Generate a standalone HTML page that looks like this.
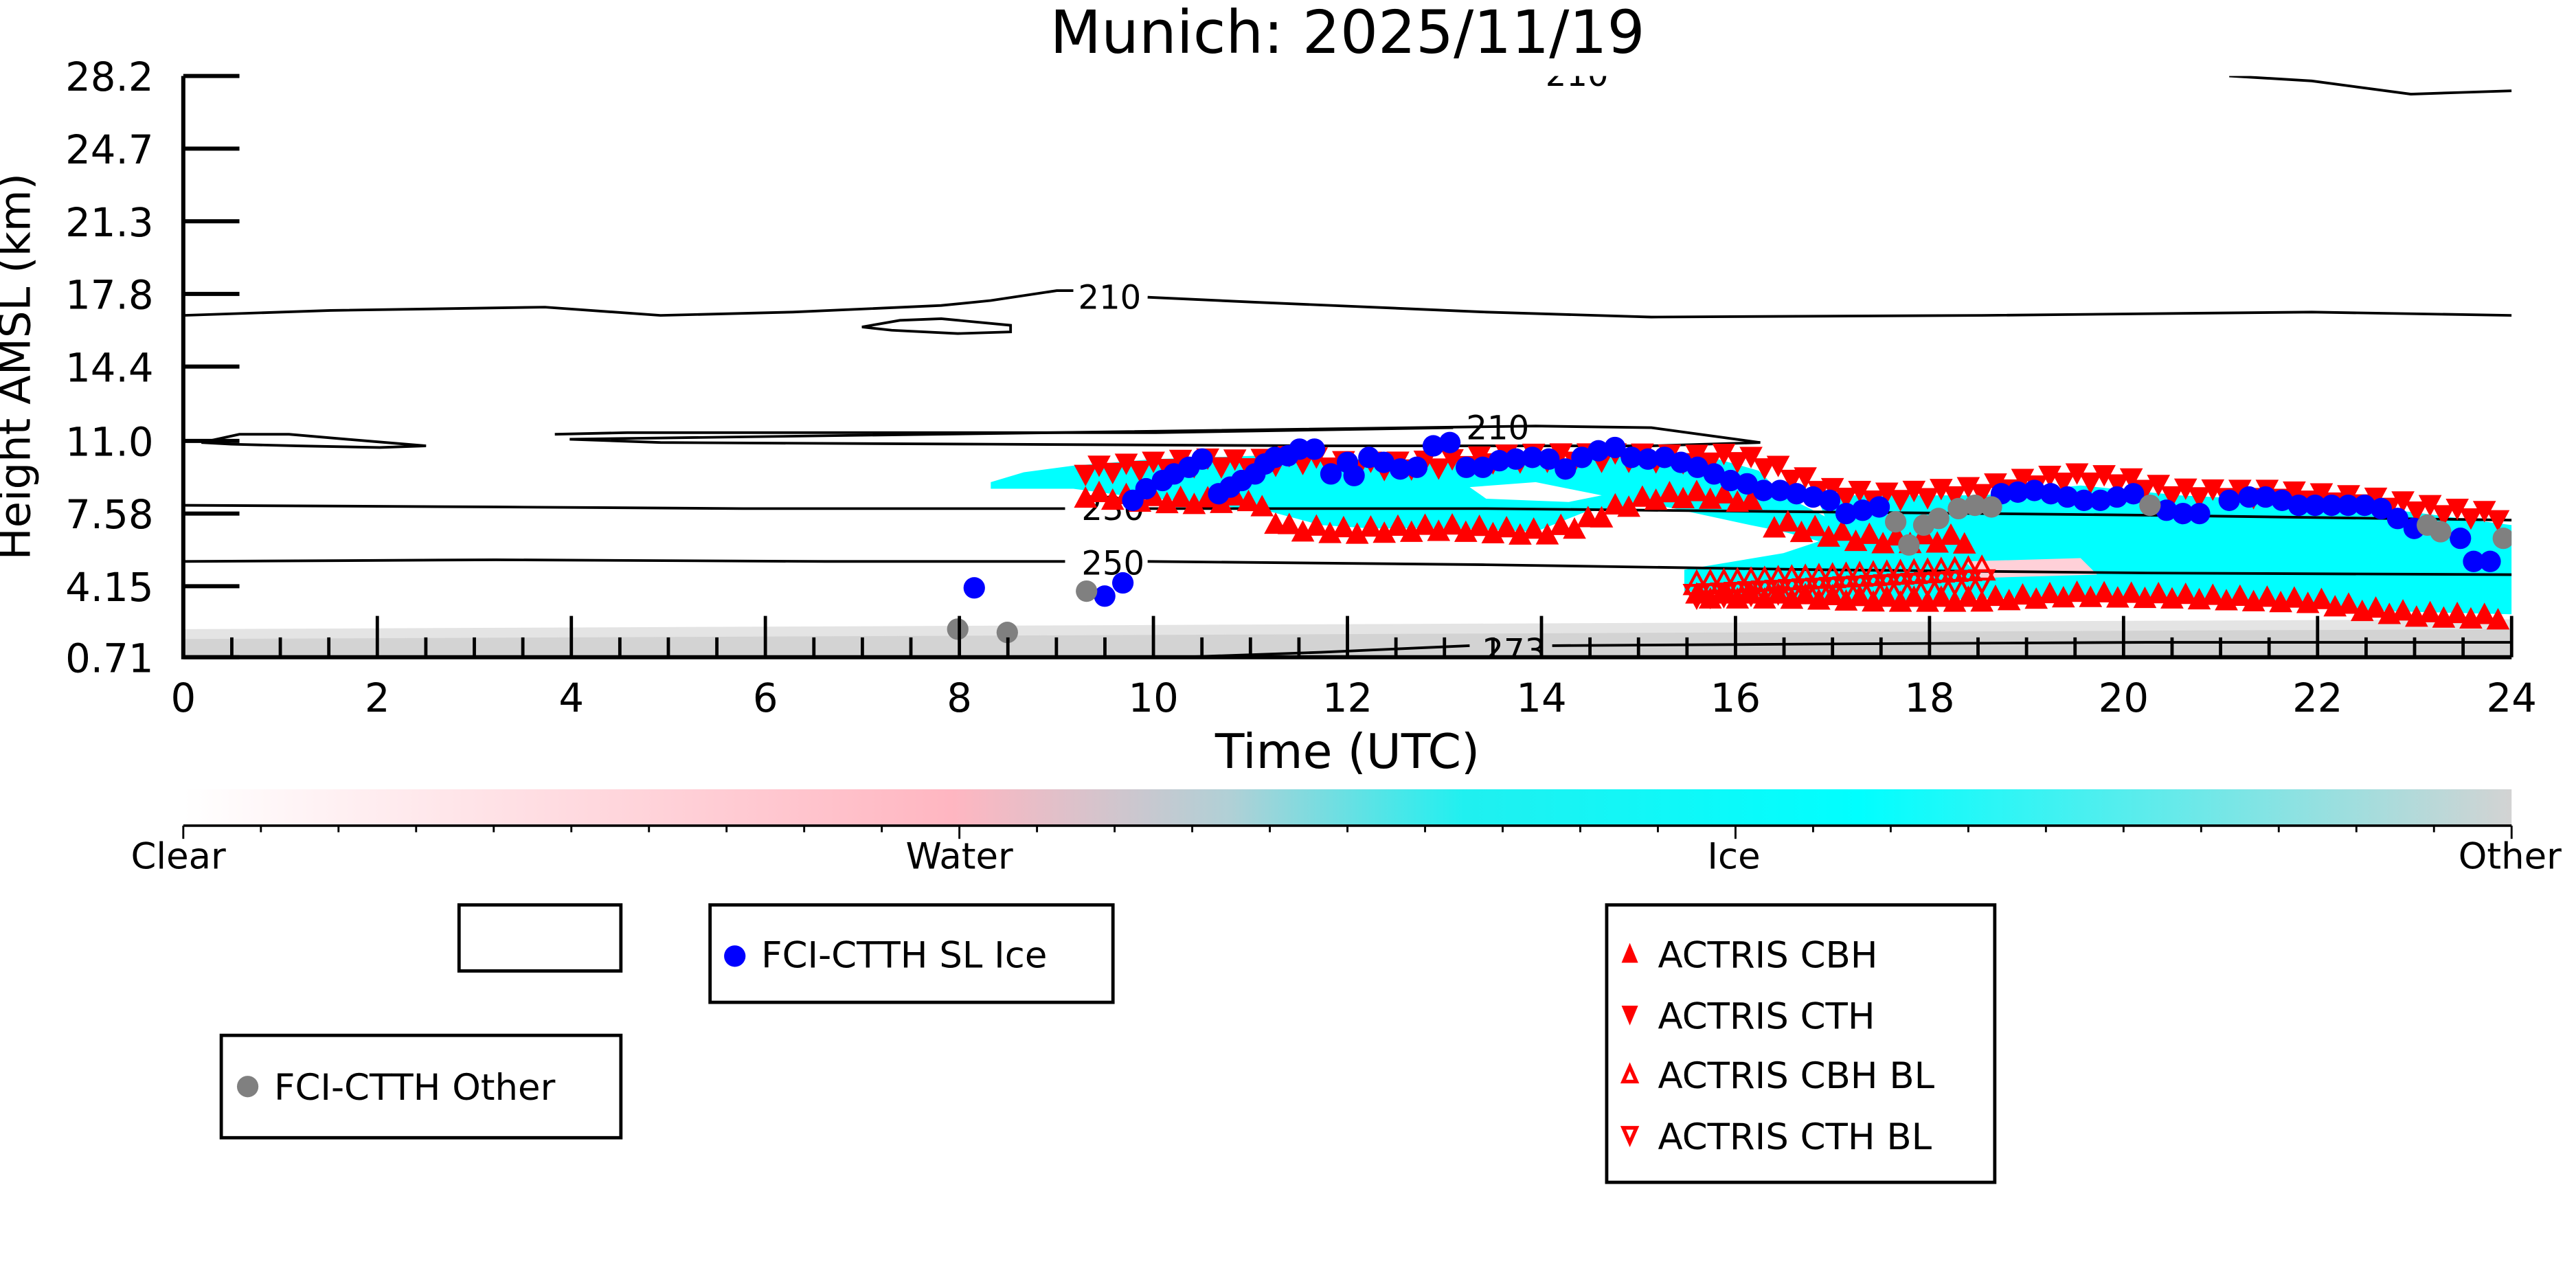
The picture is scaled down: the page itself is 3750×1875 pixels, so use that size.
<!DOCTYPE html>
<html><head><meta charset="utf-8"><style>
html,body{margin:0;padding:0;background:#fff;}
svg{display:block;}
text{font-family:"DejaVu Sans","Liberation Sans",sans-serif;}
</style></head><body>
<svg id="s" width="3750" height="1875" viewBox="0 0 1560 780" xmlns="http://www.w3.org/2000/svg">
<defs>
<linearGradient id="cb" x1="0" x2="1" y1="0" y2="0">
<stop offset="0" stop-color="#ffffff"/>
<stop offset="0.33" stop-color="#ffb6c1"/>
<stop offset="0.45" stop-color="#b0d0d6"/>
<stop offset="0.55" stop-color="#20f0f0"/>
<stop offset="0.72" stop-color="#00ffff"/>
<stop offset="1" stop-color="#d3d3d3"/>
</linearGradient>
<clipPath id="pa"><rect x="111" y="46" width="1410" height="352"/></clipPath>
</defs>
<rect width="1560" height="780" fill="#fff"/>
<text x="816" y="32" font-size="36" text-anchor="middle">Munich: 2025/11/19</text>
<g id="plot" clip-path="url(#pa)">
<path d="M111,384 L300,382 L600,380 L900,378 L1200,377 L1521,375 L1521,398 L111,398Z" fill="#d3d3d3"/>
<path d="M111,384 L1521,378" stroke="#e4e4e4" stroke-width="6" fill="none"/>
<path d="M600,292 L620,286 L650,282 L700,278 L760,276 L820,278 L900,280 L980,277 L1040,278 L1065,285 L1080,300 L1100,310 L1115,318 L1125,330 L1110,330 L1080,322 L1060,318 L1000,305 L960,310 L930,322 L880,320 L830,320 L800,318 L770,310 L720,304 L680,300 L650,296 L600,296Z" fill="#00ffff"/>
<path d="M890,295 L930,292 L970,300 L950,304 L900,302Z" fill="#fff"/>
<path d="M1100,300 L1150,300 L1200,300 L1260,294 L1320,300 L1400,304 L1460,310 L1521,318 L1521,372 L1440,370 L1380,366 L1300,364 L1220,362 L1150,364 L1080,362 L1020,358 L1020,345 L1080,335 L1110,325Z" fill="#00ffff"/>
<path d="M1190,340 L1260,338 L1270,348 L1200,350Z" fill="#ffd0d8"/>
<g fill="none" stroke="#000" stroke-width="1.6">
<path d="M111,191 L200,188 L330,186 L400,191 L480,189 L570,185 L600,182 L640,176 L650,176"/>
<path d="M695,180 L760,183 L900,189 L1000,192 L1200,191 L1400,189 L1521,191"/>
<path d="M522,198 L545,194 L570,193 L612,197 L612,201 L580,202 L540,200Z"/>
<path d="M1350,46 L1400,49 L1460,57 L1490,56 L1521,55"/>
<path d="M122,268 L145,263 L175,263 L210,266 L258,270 L230,271 L180,270 L140,269Z"/>
<path d="M336,263 L380,262 L500,262 L700,262 L880,259"/><path d="M930,258 L1000,259 L1066,268 L1000,270 L800,270 L600,269 L400,268 L345,266Z"/>
<path d="M111,306 L300,307 L450,308 L645,308"/><path d="M695,308 L900,308 L1100,310 L1300,312 L1521,315"/>
<path d="M111,340 L300,339 L500,340 L645,340"/><path d="M695,340 L900,342 L1100,345 L1300,347 L1521,348"/>
<path d="M715,398 L800,395 L890,391"/><path d="M940,391 L1100,390 L1300,389 L1521,389"/>
</g>
<g font-size="20" text-anchor="middle">
<text x="672" y="187">210</text><text x="907" y="266">210</text><text x="955" y="52">210</text>
<text x="674" y="315">230</text><text x="674" y="348">250</text><text x="917" y="401">273</text>
</g>
<g id="data"></g>
</g>
<g stroke="#000" fill="none">
<path d="M111,46 L111,398 L1521,398" stroke-width="2.5"/>
<g id="ticks" stroke-width="2"></g>
</g>
<g font-size="24" text-anchor="end" id="ylab"></g>
<g font-size="24" text-anchor="middle" id="xlab"></g>
<text x="816" y="465" font-size="29" text-anchor="middle">Time (UTC)</text>
<text transform="translate(18,222) rotate(-90)" font-size="26" text-anchor="middle">Height AMSL (km)</text>
<rect x="111" y="478" width="1410" height="22" fill="url(#cb)"/>
<line x1="111" y1="500" x2="1521" y2="500" stroke="#000" stroke-width="1.5"/>
<g id="cbt" stroke="#000" stroke-width="1.2"></g>
<g font-size="22" text-anchor="middle">
<text x="108" y="526">Clear</text><text x="581" y="526">Water</text><text x="1050" y="526">Ice</text><text x="1520" y="526">Other</text>
</g>
<g fill="none" stroke="#000" stroke-width="2">
<rect x="278" y="548" width="98" height="40"/>
<rect x="430" y="548" width="244" height="59"/>
<rect x="134" y="627" width="242" height="62"/>
<rect x="973" y="548" width="235" height="168"/>
</g>
<circle cx="445" cy="579" r="6.5" fill="#0000ff"/>
<text x="461" y="586" font-size="22">FCI-CTTH SL Ice</text>
<circle cx="150" cy="658" r="6.5" fill="#808080"/>
<text x="166" y="666" font-size="22">FCI-CTTH Other</text>
<g font-size="22">
<path d="M982,583 L992,583 L987,571Z" fill="#f00"/><text x="1004" y="586">ACTRIS CBH</text>
<path d="M982,609 L992,609 L987,621Z" fill="#f00"/><text x="1004" y="623">ACTRIS CTH</text>
<path d="M983,655 L991,655 L987,646Z" fill="none" stroke="#f00" stroke-width="2.2"/><text x="1004" y="659">ACTRIS CBH BL</text>
<path d="M983,683 L991,683 L987,692Z" fill="none" stroke="#f00" stroke-width="2.2"/><text x="1004" y="696">ACTRIS CTH BL</text>
</g>
</svg>
<script>
(function(){
var NS="http://www.w3.org/2000/svg";
function el(p,n,a){var e=document.createElementNS(NS,n);for(var k in a)e.setAttribute(k,a[k]);p.appendChild(e);return e;}
var tk=document.getElementById('ticks'),yl=document.getElementById('ylab'),xl=document.getElementById('xlab'),cbt=document.getElementById('cbt'),d=document.getElementById('data');
function X(t){return 111+t*58.75;}
var ys=[["28.2",46],["24.7",90],["21.3",134],["17.8",178],["14.4",222],["11.0",267],["7.58",311],["4.15",355],["0.71",398]];
ys.forEach(function(v){el(tk,'line',{x1:111,y1:v[1],x2:145,y2:v[1],'stroke-width':2.5});var t=el(yl,'text',{x:93,y:v[1]+9});t.textContent=v[0];});
for(var i=0;i<=48;i++){var t=i/2,x=X(t),L=(i%4==0)?25:12;el(tk,'line',{x1:x,y1:398,x2:x,y2:398-L});
 if(i%4==0){var tx=el(xl,'text',{x:x,y:431});tx.textContent=String(t);}}
for(var i=0;i<=30;i++){var x=111+i*1410/30;el(cbt,'line',{x1:x,y1:500,x2:x,y2:(i%10==0)?508:504});}
function interp(pts,t){for(var i=0;i<pts.length-1;i++){if(t>=pts[i][0]&&t<=pts[i+1][0]){var f=(t-pts[i][0])/(pts[i+1][0]-pts[i][0]);return pts[i][1]+f*(pts[i+1][1]-pts[i][1]);}}return null;}
function tri(x,y,up,fill){var h=13,w=7;var p=up?[x-w,y+h/2,x+w,y+h/2,x,y-h/2]:[x-w,y-h/2,x+w,y-h/2,x,y+h/2];
 var a={points:p.join(',')};if(fill){a.fill='#f00';}else{a.fill='none';a.stroke='#f00';a['stroke-width']=1.8;}el(d,'polygon',a);}
var cth=[[9.3,285],[10,282],[10.5,280],[11,281],[11.5,278],[12,282],[12.5,282],[13,281],[13.5,278],[14,277],[14.5,277],[15,277],[15.5,278],[16,277],[16.3,281],[16.7,291],[17,298],[17.5,301],[18,299],[18.5,297],[19,292],[19.5,289],[20,291],[20.5,298],[21,299],[21.5,299],[22,301],[22.5,303],[23,307],[23.5,311],[24,313]];
var cbh1=[[9.3,298],[10,301],[10.5,302],[11,300],[11.2,312],[11.4,318],[12,320],[13,318],[14,321],[14.4,316],[14.8,305],[15.2,299],[15.6,298],[16,300],[16.3,306]];
var cbh2=[[16.4,316],[16.8,320],[17.2,324],[17.6,326],[18,325],[18.5,326]];
var cbh3=[[15.6,360],[16.5,360],[17.5,362],[18.5,362],[19.5,359],[20.5,360],[21,361],[22,363],[22.5,368],[23,371],[24,373]];
var t,k=0;
for(t=9.3;t<=24.001;t+=0.14){k++;var y=interp(cth,t);if(y)tri(X(t),y+((k%2)?3:-2),false,true);}
for(t=9.3;t<=16.3;t+=0.14){k++;var y=interp(cbh1,t);if(y)tri(X(t),y+((k%2)?3:-1),true,true);}
for(t=16.4;t<=18.5;t+=0.14){k++;var y=interp(cbh2,t);if(y)tri(X(t),y+((k%2)?3:-2),true,true);}
for(t=15.6;t<=24.001;t+=0.14){k++;var y=interp(cbh3,t);if(y)tri(X(t),y+((k%2)?2:-1),true,true);}
for(t=15.6;t<=18.6;t+=0.14){var y=353-(t-15.6)*3;tri(X(t),y,true,false);tri(X(t),y+8,false,false);}
var blue=[[590,356],[669,361],[680,353],[686,303],[694,296],[704,291],[711,287],[720,283],[728,278],[738,299],[745,295],[752,291],[760,287],[766,281],[772,277],[780,276],[787,272],[796,272],[806,287],[816,280],[820,288],[829,277],[838,280],[848,284],[858,283],[868,270],[878,268],[888,283],[898,283],[908,279],[918,278],[928,277],[938,278],[948,284],[958,277],[968,273],[978,271],[988,277],[998,278],[1008,277],[1018,280],[1028,283],[1038,287],[1048,291],[1058,293],[1068,297],[1078,297],[1088,299],[1098,301],[1108,303],[1118,311],[1128,309],[1138,307],[1212,299],[1222,298],[1232,297],[1242,299],[1252,301],[1262,303],[1272,303],[1282,301],[1292,299],[1312,309],[1322,311],[1332,311],[1350,303],[1362,301],[1372,301],[1382,303],[1392,306],[1402,306],[1412,306],[1422,306],[1432,306],[1442,308],[1452,314],[1462,320],[1490,326],[1498,340],[1508,340]];
var gray=[[580,381],[610,383],[658,358],[1148,316],[1156,330],[1165,318],[1174,314],[1186,308],[1196,306],[1206,307],[1302,306],[1470,318],[1478,322],[1516,326]];
blue.forEach(function(p){el(d,'circle',{cx:p[0],cy:p[1],r:6.5,fill:'#0000ff'});});
gray.forEach(function(p){el(d,'circle',{cx:p[0],cy:p[1],r:6.5,fill:'#808080'});});
})();
</script>
</body></html>
